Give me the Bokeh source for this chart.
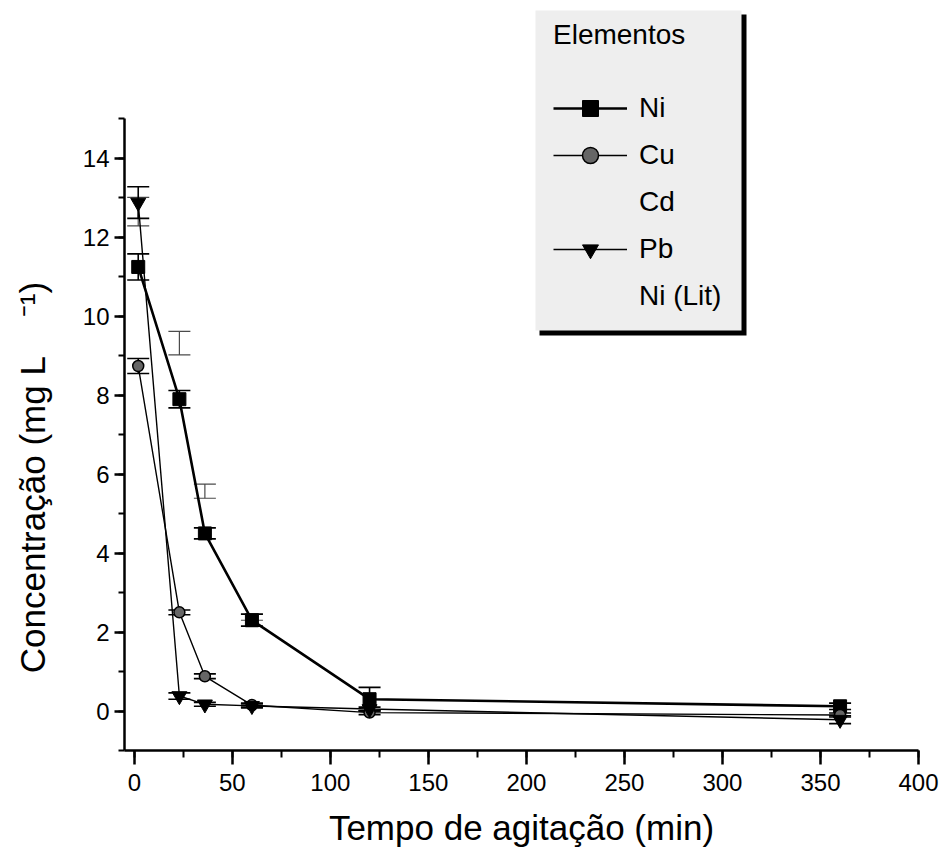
from bokeh.plotting import figure
from bokeh.models import (ColumnDataSource, Whisker, TeeHead, Legend, LegendItem,
                          BoxAnnotation, Range1d, SingleIntervalTicker)
from bokeh.embed import file_html
from bokeh.resources import INLINE

# Stirring time (min) and metal concentration (mg/L) with standard deviations
time = [2, 23, 36, 60, 120, 360]
ni = [11.25, 7.9, 4.5, 2.3, 0.3, 0.12]
ni_err = [0.33, 0.22, 0.14, 0.15, 0.3, 0.08]
cu = [8.74, 2.5, 0.88, 0.15, -0.04, -0.1]
cu_err = [0.19, 0.06, 0.06, 0.05, 0.05, 0.05]
pb = [12.88, 0.38, 0.17, 0.13, 0.05, -0.22]
pb_err = [0.4, 0.08, 0.05, 0.05, 0.05, 0.1]
cd_time = [2, 23, 36, 60]
cd = [12.65, 9.32, 5.57, 2.38]
cd_err = [0.36, 0.3, 0.18, 0.08]
ni_lit_time = []
ni_lit = []

FONT = "Liberation Sans"
NBSP = "\u00a0"

# the plotting frame runs up to the canvas top so the legend can sit above the axis end
p = figure(width=940, height=858, x_range=Range1d(-5, 400), y_range=Range1d(-1, 18),
           output_backend="svg", toolbar_location=None,
           min_border_left=124, min_border_right=22, min_border_top=0, min_border_bottom=108)
p.outline_line_color = None
p.xgrid.visible = False
p.ygrid.visible = False
p.background_fill_color = "white"
p.border_fill_color = "white"

for ax in (p.xaxis[0], p.yaxis[0]):
    ax.axis_line_width = 2.5
    ax.major_tick_line_width = 2.5
    ax.minor_tick_line_width = 2
    ax.major_tick_in = 0
    ax.minor_tick_in = 0
    ax.major_label_text_font = FONT
    ax.major_label_text_font_size = "24px"
    ax.major_label_text_color = "black"
    ax.axis_label_text_font = FONT
    ax.axis_label_text_font_size = "35px"
    ax.axis_label_text_font_style = "normal"
    ax.axis_label_text_color = "black"

p.xaxis[0].ticker = SingleIntervalTicker(interval=50, num_minor_ticks=2)
p.yaxis[0].ticker = SingleIntervalTicker(interval=2, num_minor_ticks=2)
p.yaxis[0].bounds = (-1, 15)
p.xaxis[0].major_tick_out = 14
p.xaxis[0].minor_tick_out = 7
p.yaxis[0].major_tick_out = 10
p.yaxis[0].minor_tick_out = 6
p.xaxis[0].major_label_standoff = 9
p.yaxis[0].major_label_standoff = 5
p.xaxis[0].axis_label = "Tempo de agitação (min)"
# non-breaking spaces keep the gap before the exponent and push the title
# down alongside the drawn part of the axis
p.yaxis[0].axis_label = "Concentração (mg L" + NBSP * 4 + "\u207b\u00b9)" + NBSP * 21
p.xaxis[0].axis_label_standoff = 14
p.yaxis[0].axis_label_standoff = 28


def with_bounds(xs, ys, errs):
    return ColumnDataSource(dict(x=xs, y=ys,
                                 upper=[v + e for v, e in zip(ys, errs)],
                                 lower=[v - e for v, e in zip(ys, errs)]))


ni_src = with_bounds(time, ni, ni_err)
cu_src = with_bounds(time, cu, cu_err)
pb_src = with_bounds(time, pb, pb_err)
cd_src = with_bounds(cd_time, cd, cd_err)
lit_src = ColumnDataSource(dict(x=ni_lit_time, y=ni_lit))

# connecting lines
ni_line = p.line("x", "y", source=ni_src, line_color="black", line_width=2.6)
cu_line = p.line("x", "y", source=cu_src, line_color="black", line_width=1.4)
pb_line = p.line("x", "y", source=pb_src, line_color="black", line_width=1.4)
cd_line = p.line("x", "y", source=cd_src, line_color="black", line_alpha=0)
lit_line = p.line("x", "y", source=lit_src, line_color="black", line_alpha=0)


def add_errors(src, color="black", width=1.6):
    w = Whisker(base="x", upper="upper", lower="lower", source=src,
                line_color=color, line_width=width,
                upper_head=TeeHead(size=22, line_color=color, line_width=width),
                lower_head=TeeHead(size=22, line_color=color, line_width=width))
    p.add_layout(w)


add_errors(cd_src, color="#4a4a4a", width=1.2)
add_errors(ni_src)
add_errors(cu_src)
add_errors(pb_src)

ni_pts = p.scatter("x", "y", source=ni_src, marker="square", size=13,
                   fill_color="black", line_color="black")
cu_pts = p.scatter("x", "y", source=cu_src, marker="circle", size=11,
                   fill_color="#666666", line_color="black", line_width=1.5)
pb_pts = p.scatter("x", "y", source=pb_src, marker="inverted_triangle", size=15,
                   fill_color="black", line_color="black")

# legend panel: a black drop shadow under a light grey card
shadow = BoxAnnotation(left=539, right=746, top=14, bottom=335,
                       left_units="canvas", right_units="canvas",
                       top_units="canvas", bottom_units="canvas",
                       fill_color="black", fill_alpha=1, line_color=None,
                       level="underlay")
card = BoxAnnotation(left=535, right=741, top=10, bottom=330,
                     left_units="canvas", right_units="canvas",
                     top_units="canvas", bottom_units="canvas",
                     fill_color="#eeeeee", fill_alpha=1, line_color=None,
                     level="underlay")
p.add_layout(shadow)
p.add_layout(card)

legend = Legend(items=[
    LegendItem(label="Ni", renderers=[ni_line, ni_pts]),
    LegendItem(label="Cu", renderers=[cu_line, cu_pts]),
    LegendItem(label="Cd", renderers=[cd_line]),
    LegendItem(label="Pb", renderers=[pb_line, pb_pts]),
    LegendItem(label="Ni (Lit)", renderers=[lit_line]),
], location=(429, 434), title="Elementos",
    title_text_font=FONT, title_text_font_size="28px", title_text_font_style="normal",
    title_text_color="black",
    label_text_font=FONT, label_text_font_size="28px", label_text_color="black",
    glyph_width=74, glyph_height=40, label_height=40, label_standoff=12,
    spacing=7, padding=0, margin=0, title_standoff=37,
    background_fill_alpha=0, border_line_color=None)
p.add_layout(legend)

open("out.html", "w").write(file_html(p, INLINE))
